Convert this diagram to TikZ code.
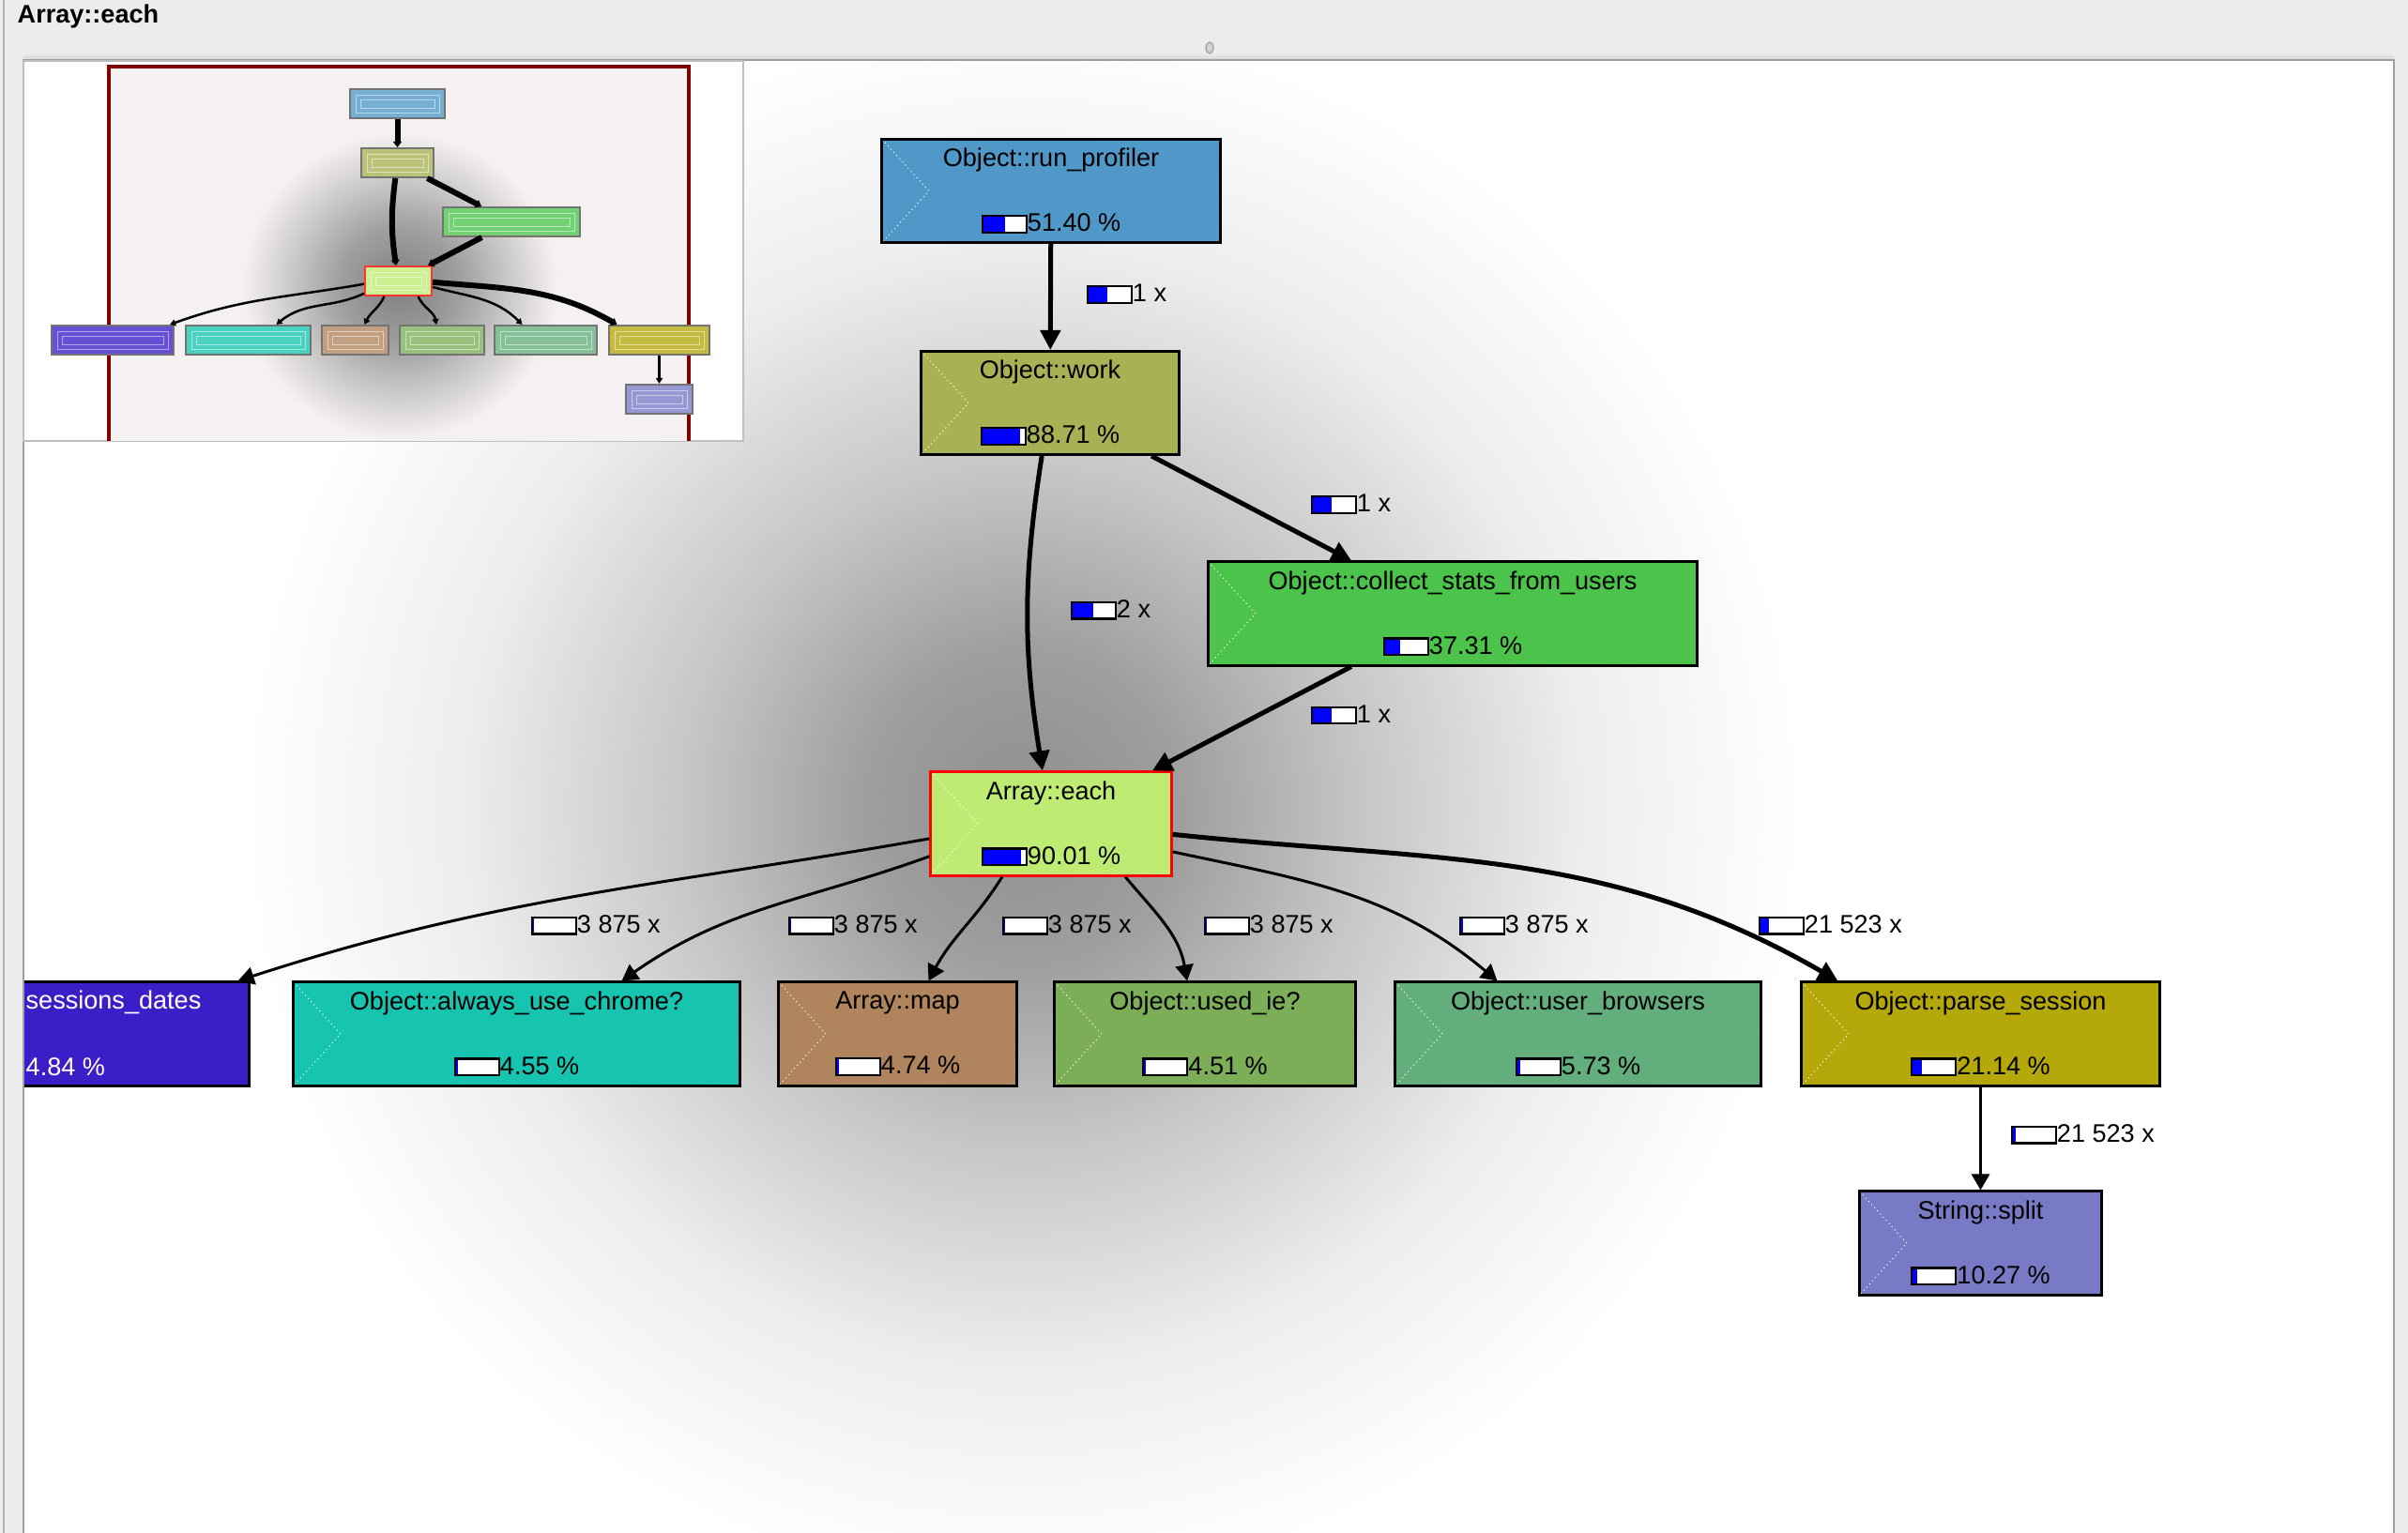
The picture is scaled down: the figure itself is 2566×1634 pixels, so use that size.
\documentclass[tikz,border=0pt]{standalone}
\usepackage{fontspec}
\setmainfont{Liberation Sans}
\usetikzlibrary{arrows.meta}

\definecolor{barbg}{RGB}{236,236,236}
\definecolor{mapbg}{RGB}{246,241,241}
\definecolor{maproon}{RGB}{128,0,0}
\definecolor{runc}{RGB}{80,152,200}
\definecolor{workc}{RGB}{168,178,84}
\definecolor{collc}{RGB}{76,196,76}
\definecolor{eachc}{RGB}{190,236,115}
\definecolor{sessc}{RGB}{60,30,200}
\definecolor{chromc}{RGB}{22,196,176}
\definecolor{mapc}{RGB}{176,132,92}
\definecolor{usedc}{RGB}{124,174,88}
\definecolor{ubc}{RGB}{98,174,124}
\definecolor{parsec}{RGB}{180,168,10}
\definecolor{splitc}{RGB}{120,122,198}

\newcommand\nodefont{\fontsize{7.7pt}{9.4pt}\selectfont}
\newlength\barw \setlength\barw{0.45cm}
\newlength\barh \setlength\barh{0.155cm}
% little call-count / time bar
\newcommand\pbar[1]{{\setlength\fboxsep{0pt}\setlength\fboxrule{0.6pt}%
  \fbox{{\color{blue}\rule{#1\barw}{\barh}}{\color{white}\rule{\dimexpr\barw-#1\barw\relax}{\barh}}}}}

\pgfdeclareradialshading{glow}{\pgfpoint{0bp}{0bp}}{color(0bp)=(black!44); color(5bp)=(black!38); color(11bp)=(black!22); color(18bp)=(black!7); color(25bp)=(white); color(50bp)=(white)}
\pgfdeclareradialshading{miniglow}{\pgfpoint{0bp}{0bp}}{color(0bp)=(black!50); color(9bp)=(black!38); color(24bp)=(mapbg); color(50bp)=(mapbg)}

\begin{document}
\begin{tikzpicture}[
     x = 0.01cm, y = -0.01cm,
    fn/.style = {draw=black, line width=0.03cm, fill=#1,
                 minimum height=1.1cm, inner sep=0pt,
                 align=center, font=\nodefont,
                 path picture={\draw[white, densely dotted, line width=0.3pt]
                   (path picture bounding box.north west)
                   -- ([xshift=0.5cm]path picture bounding box.west)
                   -- (path picture bounding box.south west);}},
  elbl/.style = {anchor=west, inner sep=0pt, font=\nodefont},
   thk/.style = {line width=0.05cm, -{Triangle[length=0.21cm,width=0.21cm]}},
   thn/.style = {line width=0.03cm, -{Triangle[length=0.17cm,width=0.19cm]}},
  mini/.style = {draw=black!55, line width=0.02cm, fill=#1!78!white,
                 minimum height=0.31cm, inner sep=0pt,
                 path picture={\draw[white, opacity=0.5, line width=0.25pt]
                   ([shift={(0.06cm,0.06cm)}]path picture bounding box.south west) rectangle
                   ([shift={(-0.06cm,-0.06cm)}]path picture bounding box.north east)
                   ([shift={(0.11cm,0.11cm)}]path picture bounding box.south west) rectangle
                   ([shift={(-0.11cm,-0.11cm)}]path picture bounding box.north east);}},
  mthk/.style = {line width=0.06cm, -{Triangle[length=0.06cm,width=0.09cm]}},
  mthn/.style = {line width=0.025cm, -{Triangle[length=0.06cm,width=0.07cm]}}
                        ]
\useasboundingbox (0,0) rectangle (2566,1634);
%
% window
\fill[barbg] (0,0) rectangle (2566,1634);
\draw[gray!60] (4,0) -- (4,1634);
\shade[top color=barbg, bottom color=black!16] (25,56) rectangle (2551,64);
\fill[white] (25,64) rectangle (2551,1634);
\draw[gray!70, fill=gray!35] (1289,51) ellipse (4 and 6);
\node (title) [anchor=west, inner sep=0pt, font=\nodefont\bfseries] at (18,18) {Array::each};
%
% call graph
\begin{scope}
\clip (25,64) rectangle (2551,1634);
\shade[shading=glow] (1090,860) ellipse (830 and 830);

\node (run) [fn=runc, minimum width=3.6cm] at (1120,203.5)
    {Object::run\_profiler\\[10.1pt]\pbar{.51}51.40 \%};
\node (work) [fn=workc, minimum width=2.74cm] at (1119,429.5)
    {Object::work\\[10.1pt]\pbar{.89}88.71 \%};
\node (collect) [fn=collc, minimum width=5.2cm] at (1548,654)
    {Object::collect\_stats\_from\_users\\[10.1pt]\pbar{.37}37.31 \%};
\node (each) [fn=eachc, draw=red, minimum width=2.56cm] at (1120,878)
    {Array::each\\[10.1pt]\pbar{.9}90.01 \%};
\node (sess) [fn=sessc, minimum width=4.64cm] at (33,1102) {};
\node (sesst) [elbl, text=white] at (27,1068) {sessions\_dates};
\node (sessp) [elbl, text=white] at (27,1137) {4.84 \%};
\node (chrome) [fn=chromc, minimum width=4.75cm] at (550.5,1102)
    {Object::always\_use\_chrome?\\[10.1pt]\pbar{.04}4.55 \%};
\node (map) [fn=mapc, minimum width=2.53cm] at (956.5,1102)
    {Array::map\\[10.1pt]\pbar{.04}4.74 \%};
\node (used) [fn=usedc, minimum width=3.2cm] at (1284,1102)
    {Object::used\_ie?\\[10.1pt]\pbar{.04}4.51 \%};
\node (ub) [fn=ubc, minimum width=3.89cm] at (1681.5,1102)
    {Object::user\_browsers\\[10.1pt]\pbar{.06}5.73 \%};
\node (parse) [fn=parsec, minimum width=3.81cm] at (2110.5,1102)
    {Object::parse\_session\\[10.1pt]\pbar{.21}21.14 \%};
\node (split) [fn=splitc, minimum width=2.57cm] at (2110.5,1325)
    {String::split\\[10.1pt]\pbar{.1}10.27 \%};

\draw[thk] (run) -- (work);
\draw[thk] (work) to[bend right=9] (each);
\draw[thk] (work) -- (collect);
\draw[thk] (collect) -- (each);
\draw[thn] (each.187) to[out=190, in=18] ([xshift=-0.13cm]sess.north east);
\draw[thn] (each.195) to[out=200, in=35] ([xshift=1.12cm]chrome.north);
\draw[thn] ([xshift=-0.52cm]each.south) to[out=238, in=62] ([xshift=0.33cm]map.north);
\draw[thn] ([xshift=0.79cm]each.south) to[out=-50, in=100] ([xshift=-0.19cm]used.north);
\draw[thn] (each.-13) to[out=-12, in=140] ([xshift=-0.86cm]ub.north);
\draw[thk] (each.-5) to[out=-6, in=150] ([xshift=-1.52cm]parse.north);
\draw[thn] (parse) -- (split);

\node (c1) [elbl] at (1157,313.5) {\pbar{.45}1 x};
\node (c2) [elbl] at (1396,537.5) {\pbar{.45}1 x};
\node (c3) [elbl] at (1140,650) {\pbar{.5}2 x};
\node (c4) [elbl] at (1396,762) {\pbar{.45}1 x};
\node (c5) [elbl] at (565,986) {\pbar{.03}3 875 x};
\node (c6) [elbl] at (839,986) {\pbar{.03}3 875 x};
\node (c7) [elbl] at (1067,986) {\pbar{.03}3 875 x};
\node (c8) [elbl] at (1282,986) {\pbar{.03}3 875 x};
\node (c9) [elbl] at (1554,986) {\pbar{.05}3 875 x};
\node (c10) [elbl] at (1873,986) {\pbar{.2}21 523 x};
\node (c11) [elbl] at (2142,1209) {\pbar{.06}21 523 x};
\end{scope}
\draw[gray!75] (25,1634) -- (25,64) -- (2551,64) -- (2551,1634);
%
% overview map
\draw[gray!50, fill=white] (25,65) rectangle (792,470);
\begin{scope}
\clip (25,65) rectangle (792,470);
\fill[mapbg] (116,71) rectangle (734,480);
\shade[shading=miniglow] (426,305) ellipse (175 and 170);
\draw[maproon, line width=0.035cm] (116,480) -- (116,71) -- (734,71) -- (734,480);

\node (m1) [mini=runc, minimum width=1.01cm] at (423.5,110.5) {};
\node (m2) [mini=workc, minimum width=0.77cm] at (423.5,173.5) {};
\node (m3) [mini=collc, minimum width=1.46cm] at (545,236.5) {};
\node (m4) [mini=eachc, draw=red!80, minimum width=0.71cm] at (424.5,299.5) {};
\node (m5) [mini=sessc, minimum width=1.3cm] at (120,362.5) {};
\node (m6) [mini=chromc, minimum width=1.33cm] at (264.5,362.5) {};
\node (m7) [mini=mapc, minimum width=0.71cm] at (378.5,362.5) {};
\node (m8) [mini=usedc, minimum width=0.9cm] at (471,362.5) {};
\node (m9) [mini=ubc, minimum width=1.09cm] at (581.5,362.5) {};
\node (m10) [mini=parsec, minimum width=1.07cm] at (702.5,362.5) {};
\node (m11) [mini=splitc, minimum width=0.71cm] at (702.5,425.5) {};

\draw[mthk] (m1) -- (m2);
\draw[mthk] (m2) -- (m3);
\draw[mthk] (m2) to[bend right=8] (m4);
\draw[mthk] (m3) -- (m4);
\draw[mthn] (m4.185) to[out=190, in=20] ([xshift=-0.05cm]m5.north east);
\draw[mthn] (m4.200) to[out=205, in=40] ([xshift=0.3cm]m6.north);
\draw[mthn] ([xshift=-0.15cm]m4.south) to[out=245, in=65] ([xshift=0.1cm]m7.north);
\draw[mthn] ([xshift=0.21cm]m4.south) to[out=-65, in=100] ([xshift=-0.06cm]m8.north);
\draw[mthn] (m4.-10) to[out=-15, in=135] ([xshift=-0.25cm]m9.north);
\draw[mthk] (m4.-2) to[out=-5, in=150] ([xshift=-0.45cm]m10.north);
\draw[mthn] (m10) -- (m11);
\end{scope}
\end{tikzpicture}
\end{document}
